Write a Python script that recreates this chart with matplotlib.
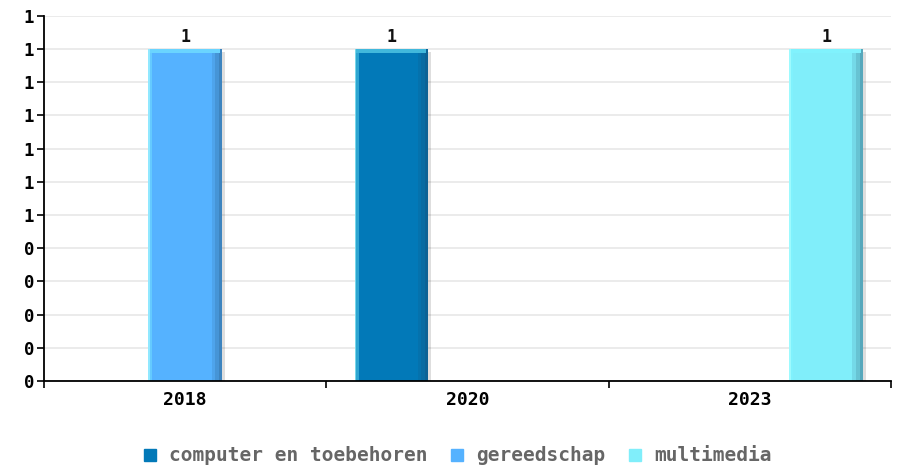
import numpy as np
import matplotlib
matplotlib.use("Agg")
import matplotlib.pyplot as plt
from matplotlib.colors import to_rgb
from matplotlib.lines import Line2D

# data
years = ["2018", "2020", "2023"]
series = ["computer en toebehoren", "gereedschap", "multimedia"]
computer = [0, 1, 0]
gereedschap = [1, 0, 0]
multimedia = [0, 0, 1]
colors = ["#0279b8", "#55b2ff", "#80eefa"]
yticks = np.arange(0, 1.11, 0.1)

FONT = "DejaVu Sans Mono"


def mix(c, other, t):
    a, b = np.array(to_rgb(c)), np.array(to_rgb(other))
    return tuple(a * (1 - t) + b * t)


fig = plt.figure(figsize=(9.01, 4.68), dpi=100)
ax = fig.add_axes([0.0488, 0.186, 0.9401, 0.780])

x = np.arange(len(years))
w = 0.26
offs = [-0.27, 0.0, 0.27]
for vals, col, off in zip([computer, gereedschap, multimedia], colors, offs):
    for xi, v in zip(x, vals):
        if v <= 0:
            continue
        left = xi + off - w / 2
        # schaduw rechts
        ax.bar(left + w, v * 0.99, 0.012, align="edge", color="#000000", alpha=0.13, zorder=2, lw=0)
        ax.bar(left, v, w, align="edge", color=col, zorder=3, lw=0)
        # bevel: lichte linkerrand, donkere rechterrand, lichte bovenkant
        ax.bar(left, v, w * 0.025, align="edge", color=mix(col, "#aaffff", 0.7), zorder=4, lw=0)
        ax.bar(left + w * 0.025, v, w * 0.03, align="edge", color=mix(col, "#7ff6ff", 0.35), zorder=4, lw=0)
        ax.bar(left + w * 0.86, v, w * 0.05, align="edge", color=mix(col, "#1a4060", 0.12), zorder=4, lw=0)
        ax.bar(left + w * 0.91, v, w * 0.05, align="edge", color=mix(col, "#1a4060", 0.25), zorder=4, lw=0)
        ax.bar(left + w * 0.96, v, w * 0.04, align="edge", color=mix(col, "#1a4060", 0.4), zorder=4, lw=0)
        ax.bar(left + w * 0.02, 0.011, w * 0.96, bottom=v - 0.011, align="edge",
               color=mix(col, "#7ff6ff", 0.5), zorder=5, lw=0)
        ax.text(xi + off, v + 0.008, f"{v:g}", ha="center", va="bottom", family=FONT,
                fontsize=12, fontweight="bold", color="#111111", zorder=6)

ax.set_xlim(-0.5, len(years) - 0.5)
ax.set_ylim(0, 1.1)
ax.set_yticks(yticks)
ax.set_yticklabels([f"{int(np.floor(t + 0.5 + 1e-9))}" for t in yticks],
                   family=FONT, fontsize=12.5, fontweight="bold")
ax.set_xticks(x)
ax.set_xticklabels(years, family=FONT, fontsize=13, fontweight="bold")
ax.set_xticks(np.arange(-0.5, len(years)), minor=True)
ax.tick_params(axis="x", which="major", length=0, pad=7)
ax.tick_params(axis="x", which="minor", length=5, width=1.2, direction="out")
ax.tick_params(axis="y", length=5, width=1.2, pad=2)
ax.grid(axis="y", color="#e8e8e8", lw=1.2, zorder=0)
ax.set_axisbelow(True)
for s in ["top", "right"]:
    ax.spines[s].set_visible(False)
for s in ["left", "bottom"]:
    ax.spines[s].set_linewidth(1.3)
    ax.spines[s].set_zorder(7)

handles = [Line2D([], [], marker="s", ls="", color=c, markersize=9) for c in colors]
leg = fig.legend(handles, series, loc="center", bbox_to_anchor=(0.505, 0.026), ncol=3,
                 frameon=False, handletextpad=0.4, columnspacing=0.9, handlelength=1.2,
                 prop={"family": FONT, "weight": "bold", "size": 14})
for t in leg.get_texts():
    t.set_color("#666666")

fig.savefig("out.png", dpi=100)
